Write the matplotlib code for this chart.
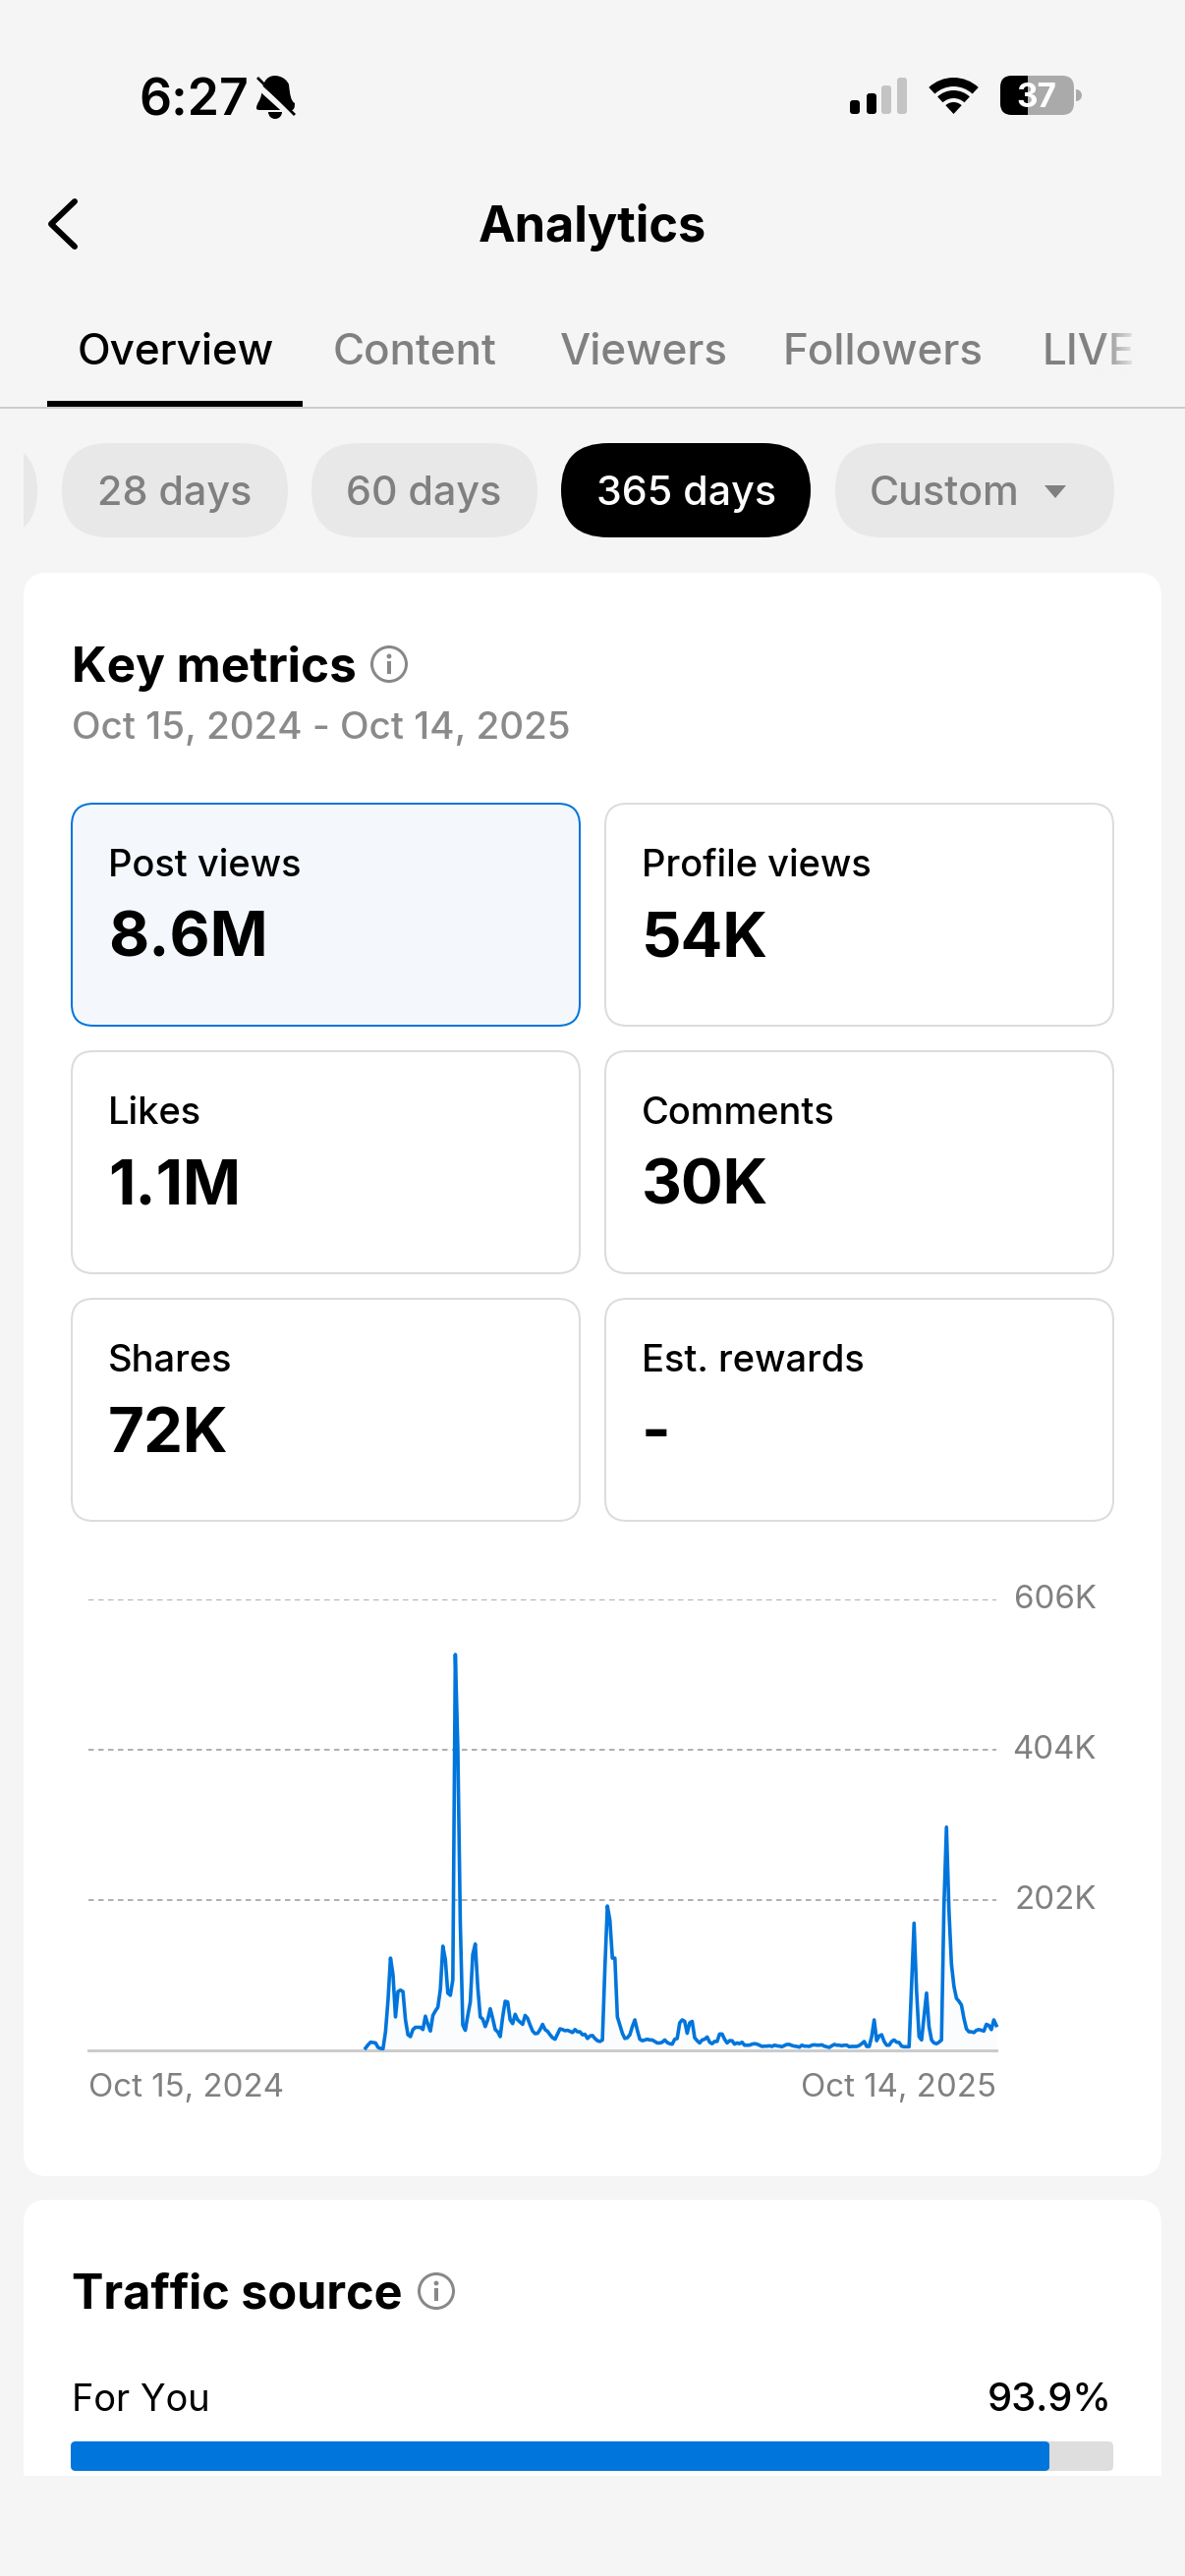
import numpy as np
import pandas as pd
import matplotlib
matplotlib.use("Agg")
import matplotlib.pyplot as plt
from matplotlib.patches import FancyBboxPatch, Circle, Rectangle, Wedge, Polygon, PathPatch
from matplotlib.path import Path
from matplotlib.transforms import IdentityTransform, ScaledTranslation

plt.rcParams['font.family'] = ['Inter', 'DejaVu Sans']

# ---------- data ----------
start_date = "2024-10-15"
end_date = "2025-10-14"
quiet_days = [0] * 111
active_views_k = [
    3.1, 7.5, 11, 10.6, 10, 4, 2.6, 2.2, 25, 67, 124, 102, 45, 79, 81, 79, 41, 21, 18.5, 28,
    31, 31, 31, 28, 46, 35, 26, 47, 53, 58, 82, 140, 122, 77, 74, 95, 532, 406, 170, 34,
    27, 47, 65, 129, 143, 85, 45, 42, 32, 41, 56, 43, 28, 25, 18.5, 45, 66, 65, 41, 36,
    48.5, 41, 38, 35, 47, 43, 34, 26, 22.5, 23, 28, 35, 28, 25.6, 21, 17, 15, 22, 29, 28,
    26.5, 27, 25.6, 24, 28, 25, 25, 21, 21.6, 16, 19.4, 20, 16, 13, 12, 14, 111, 194, 175, 124,
    124, 45, 34, 23, 16, 17, 21, 32, 41, 27, 15, 13, 14, 15, 14, 14, 12, 10, 10, 11,
    14, 10.6, 9, 8.4, 15, 16, 37, 41, 39, 23, 37, 39, 17, 13, 10, 14, 15, 18, 11, 9,
    12, 12, 22, 22, 15, 10, 13, 13, 8.4, 10, 9, 11, 7, 7, 7, 8.4, 9, 8.4, 7, 5.3,
    5.7, 5.7, 6.2, 5.3, 7, 6.2, 5.7, 4.9, 6.6, 8, 8, 6.6, 5.7, 5.3, 4.4, 7, 5.7, 5.7, 5.3, 7,
    7.5, 7, 7, 7.5, 5.7, 4.9, 4, 6.2, 8, 7, 7, 6.2, 7, 7, 4.9, 5.3, 5.3, 5.3, 6.6, 9,
    12, 5.3, 5.3, 18.5, 41, 13, 19.4, 21, 12, 7, 7, 12, 14, 11, 10.6, 5.7, 4.9, 4.9, 4.9, 89,
    171, 80, 18.5, 14, 45, 77, 32, 14, 10, 9, 11, 14, 195, 300, 188, 116, 86, 70, 66, 61,
    43, 29, 25, 25, 24, 27, 28, 27, 26, 35, 33.5, 28, 41, 33.5,
]
y_ticks = [0, 202000, 404000, 606000]
y_tick_labels = ["", "202K", "404K", "606K"]
x_tick_labels = ["Oct 15, 2024", "Oct 14, 2025"]
metric_names = ["Post views", "Profile views", "Likes", "Comments", "Shares", "Est. rewards"]
metric_values = ["8.6M", "54K", "1.1M", "30K", "72K", "-"]
tab_names = ["Overview", "Content", "Viewers", "Followers", "LIVE"]
range_names = ["28 days", "60 days", "365 days", "Custom"]
traffic_name = "For You"
traffic_share = 93.9

# ---------- figure ----------
W, H = 1206, 2622
BG = "#F5F5F5"
BLUE = "#0075DB"
GREY = "#808080"
PX = 0.72
fig = plt.figure(figsize=(W / 100, H / 100), dpi=100, facecolor=BG)

ui = fig.add_axes([0, 0, 1, 1], zorder=0)
ui.set_xlim(0, W)
ui.set_ylim(H, 0)
ui.axis("off")


def rrect(x0, y0, x1, y1, r, fc, ec="none", lw=0, zorder=1):
    p = FancyBboxPatch((x0, y0), x1 - x0, y1 - y0, boxstyle=f"round,pad=0,rounding_size={r}",
                       fc=fc, ec=ec, lw=lw * PX, zorder=zorder)
    ui.add_patch(p)
    return p


def label(x, y, s, size, color="black", weight="normal", ha="left", zorder=5):
    return ui.text(x, y, s, fontsize=size, color=color, fontweight=weight, ha=ha, va="baseline", zorder=zorder)


def info_icon(cx, cy):
    ui.add_patch(Circle((cx, cy), 17.5, fc="none", ec="#888888", lw=3 * PX, zorder=4))
    ui.add_patch(Circle((cx, cy - 8), 2.4, fc="#888888", ec="none", zorder=4))
    ui.add_patch(Rectangle((cx - 1.6, cy - 3), 3.2, 13, fc="#888888", ec="none", zorder=4))


# status bar
label(141, 117, "6:27", 37.3, weight="semibold")
bell = Path([(280, 77), (270, 77), (267, 86), (266, 96), (265, 103), (261, 105), (261, 110),
             (261, 112), (263, 112), (265, 112), (297, 112), (299, 112), (300, 110), (300, 105),
             (296, 103), (295, 96), (294, 86), (290, 77), (280, 77), (280, 77)],
            [Path.MOVETO] + [Path.CURVE4] * 3 + [Path.CURVE4] * 3 + [Path.CURVE4] * 3 + [Path.LINETO] +
            [Path.CURVE4] * 3 + [Path.CURVE4] * 3 + [Path.CURVE4] * 3)
ui.add_patch(PathPatch(bell, fc="black", ec="none", zorder=3))
ui.add_patch(Wedge((280, 114), 7, 0, 180, fc="black", ec="none", zorder=3))
ui.plot([260, 304], [85, 125], color=BG, lw=6 * PX, zorder=4, solid_capstyle="butt")
ui.plot([262, 300], [79, 117], color="black", lw=2.8 * PX, zorder=5, solid_capstyle="butt")

for x0, x1, top, col in [(865, 875, 102, "black"), (882, 892, 95, "black"),
                         (897, 907, 87, "#C4C4C4"), (913, 923, 79, "#C4C4C4")]:
    rrect(x0, top, x1, 116, 3, col)
ui.add_patch(Wedge((970.5, 116), 37, 270 - 43, 270 + 43, width=9, fc="black", ec="none", zorder=3))
ui.add_patch(Wedge((970.5, 116), 24, 270 - 43, 270 + 43, width=8, fc="black", ec="none", zorder=3))
ui.add_patch(Wedge((970.5, 116), 12, 270 - 43, 270 + 43, fc="black", ec="none", zorder=3))
batt = rrect(1018, 77, 1093, 117, 12, "#AAAAAA", zorder=2)
batt_dark = rrect(1018, 77, 1093, 117, 12, "black", zorder=3)
batt_dark.set_clip_path(Rectangle((1018, 77), 28, 40, transform=ui.transData))
ui.add_patch(Wedge((1095, 97), 6, 270, 90, fc="#AAAAAA", ec="none", zorder=2))
ui.text(1055, 109, "37", fontsize=24, color="white", fontweight="bold", ha="center", va="baseline", zorder=5)

# header
ui.plot([76, 52, 76], [205, 228, 251], color="black", lw=6 * PX, solid_capstyle="round",
        solid_joinstyle="round", zorder=3)
label(603, 246, "Analytics", 36.3, weight="bold", ha="center")

# tabs
tab_x = [79, 339, 570, 797, 1060]
for i, (name, x) in enumerate(zip(tab_names, tab_x)):
    label(x, 371, name, 31.7, color="black" if i == 0 else GREY, weight="medium")
grad = np.zeros((1, 64, 4))
grad[..., :3] = matplotlib.colors.to_rgb(BG)
grad[..., 3] = np.linspace(0, 1, 64)
ui.imshow(grad, extent=(1118, 1160, 385, 330), aspect="auto", zorder=6, interpolation="bilinear")
ui.set_xlim(0, W)
ui.set_ylim(H, 0)
ui.add_patch(Rectangle((48, 408), 260, 6, fc="black", ec="none", zorder=3))
ui.add_patch(Rectangle((0, 414), W, 2, fc="#CCCCCC", ec="none", zorder=2))

# range pills
sliver = rrect(-100, 451, 38, 547, 48, "#E8E8E8")
sliver.set_clip_path(Rectangle((24, 451), 20, 96, transform=ui.transData))
pills = [(63, 293), (317, 547), (571, 825), (850, 1134)]
pill_text_x = [99, 352, 607, 885]
for i, (name, (x0, x1), tx) in enumerate(zip(range_names, pills, pill_text_x)):
    on = i == 2
    rrect(x0, 451, x1, 547, 48, "black" if on else "#E8E8E8")
    label(tx, 514, name, 29.7, color="white" if on else GREY, weight="medium")
ui.add_patch(Polygon([(1063, 494), (1085, 494), (1074, 507)], fc=GREY, ec="none", zorder=3))

# main card
rrect(24, 583, 1182, 2215, 24, "white")
label(73, 693.5, "Key metrics", 35.6, weight="bold")
info_icon(396, 676)
label(73, 752, "Oct 15, 2024 - Oct 14, 2025", 27.8, color="#8A8A8A", weight="medium")

cols = [(73, 590), (616, 1133)]
rows = [(818, 1044), (1070, 1296), (1322, 1548)]
for i, (name, value) in enumerate(zip(metric_names, metric_values)):
    x0, x1 = cols[i % 2]
    y0, y1 = rows[i // 2]
    first = i == 0
    rrect(x0, y0, x1, y1, 22, "#F4F8FD" if first else "white", ec=BLUE if first else "#DCDCDC", lw=2, zorder=2)
    label(x0 + 37, y0 + 74.5, name, 27.4, weight="medium")
    label(x0 + 37, y0 + 155.5, value, 45.7, weight="bold")

# traffic card
card2 = rrect(24, 2239, 1182, 2600, 24, "white")
card2.set_clip_path(Rectangle((0, 2239), W, 281, transform=ui.transData))
label(73, 2350, "Traffic source", 35, weight="bold")
info_icon(444, 2332)
label(73, 2454, traffic_name, 27.3, weight="normal")
label(1132, 2454, f"{traffic_share}%", 28.7, weight="medium", ha="right")

# ---------- chart ----------
dates = pd.date_range(start_date, end_date, freq="D")
views = np.array(quiet_days + [v * 1000 for v in active_views_k], dtype=float)
ax = fig.add_axes([90.4 / W, 1 - 2087 / H, (1014 - 90.4) / W, (2087 - 1628) / H], zorder=2, facecolor="none")
n0 = len(quiet_days)
ax.fill_between(dates[n0:], 0, views[n0:], color=BLUE, alpha=0.018, lw=0, zorder=2)
ax.plot(dates[n0:], views[n0:], color=BLUE, lw=3.6 * PX, solid_joinstyle="round", zorder=3, clip_on=False)
ax.set_xlim(dates[0], dates[-1])
ax.set_ylim(0, y_ticks[-1])
ax.yaxis.tick_right()
ax.set_yticks(y_ticks)
ax.set_yticklabels(y_tick_labels, fontsize=23.8, color=GREY, ha="right")
ax.tick_params(axis="y", length=0, pad=102 * PX)
ax.set_xticks([dates[0], dates[-1]])
ax.set_xticklabels(x_tick_labels, fontsize=23.8, color=GREY)
ax.tick_params(axis="x", length=0, pad=23.5 * PX)
xt = ax.get_xticklabels()
xt[0].set_ha("left")
xt[1].set_ha("right")
shift_up = ScaledTranslation(0, 3 / 100, fig.dpi_scale_trans)
for t in ax.get_yticklabels():
    t.set_transform(t.get_transform() + shift_up)
ax.grid(axis="y", color="#B0B0B0", lw=2 * PX, linestyle=(0, (2.75, 2.25)), zorder=1)
ax.set_axisbelow(True)
for s in ["top", "left", "right"]:
    ax.spines[s].set_visible(False)
ax.spines["bottom"].set_color("#CCCCCC")
ax.spines["bottom"].set_linewidth(3 * PX)

# ---------- traffic bar ----------
bx = fig.add_axes([72 / W, 1 - 2515 / H, (1133 - 72) / W, 30 / H], zorder=3, facecolor="none")
track = bx.barh([0], [100], height=1, color="#DEDEDE", zorder=1)[0]
fill = bx.barh([0], [traffic_share], height=1, color=BLUE, zorder=2)[0]
bx.set_xlim(0, 100)
bx.set_ylim(-0.5, 0.5)
bx.axis("off")
for bar in (track, fill):
    (px0, py0), (px1, py1) = bx.transData.transform([(bar.get_x(), bar.get_y()),
                                                     (bar.get_x() + bar.get_width(), bar.get_y() + bar.get_height())])
    clip = FancyBboxPatch((px0, py0), px1 - px0, py1 - py0, boxstyle="round,pad=0,rounding_size=5",
                          transform=IdentityTransform())
    bar.set_clip_path(clip)

fig.savefig("out.png", dpi=100, facecolor=BG)
